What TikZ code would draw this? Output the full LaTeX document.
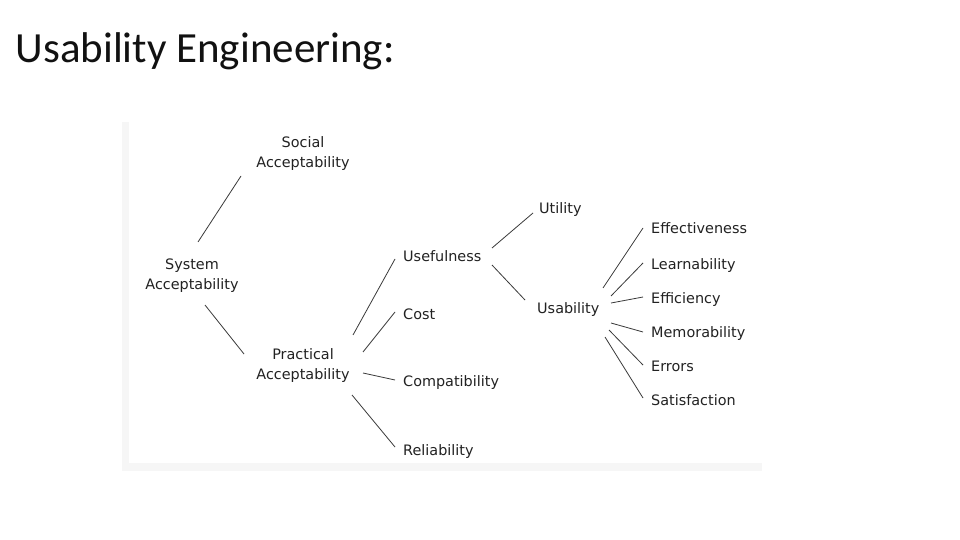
\documentclass[tikz,border=0pt]{standalone}
\usepackage{fontspec}
\setmainfont{DejaVu Sans}
\newfontfamily\titlefont{Carlito}
\definecolor{txt}{HTML}{222222}
\definecolor{ln}{HTML}{3A3A3A}
\definecolor{frame}{HTML}{F6F6F6}
\definecolor{titlec}{HTML}{111111}
\begin{document}
\begin{tikzpicture}[x=1pt,y=-1pt,
  lbl/.style={inner sep=0pt, text=txt, font=\fontsize{14.4}{20}\selectfont},
  lblw/.style={lbl, anchor=base west},
  two/.style={lbl, align=center, anchor=center},
  conn/.style={draw=ln, line width=0.8pt}]
\useasboundingbox (0,0) rectangle (960,540);
\fill[white] (0,0) rectangle (960,540);
% faint frame of the embedded picture
\fill[frame] (122,122) rectangle (129,471);
\fill[frame] (122,463) rectangle (762,471);
% title
\node[inner sep=0pt, anchor=base west, text=titlec, font=\titlefont\fontsize{43}{48}\selectfont] (title) at (15.5,63) {Usability Engineering:};
% nodes
\node[two] (soc) at (303,153.4) {Social\\Acceptability};
\node[two] (sys) at (192,275.4) {System\\Acceptability};
\node[two] (prac) at (303,365.9) {Practical\\Acceptability};
\node[lblw] (usef) at (403,261) {Usefulness};
\node[lblw] (cost) at (403,319) {Cost};
\node[lblw] (comp) at (403,386) {Compatibility};
\node[lblw] (rel) at (403,455) {Reliability};
\node[lblw] (util) at (539,213) {Utility};
\node[lblw] (usab) at (537,313) {Usability};
\node[lblw] (eff) at (651,233) {Effectiveness};
\node[lblw] (learn) at (651,269) {Learnability};
\node[lblw] (effi) at (651,303) {Efficiency};
\node[lblw] (mem) at (651,337.5) {Memorability};
\node[lblw] (err) at (651,371.5) {Errors};
\node[lblw] (sat) at (651,405.5) {Satisfaction};
% connector ends
\coordinate (sysA) at (198,242); \coordinate (socA) at (241,176);
\coordinate (sysB) at (205,305); \coordinate (pracA) at (244,354);
\coordinate (pracB) at (353,335); \coordinate (usefA) at (395,259);
\coordinate (pracC) at (363,352); \coordinate (costA) at (395,312);
\coordinate (pracD) at (363,373); \coordinate (compA) at (395,380);
\coordinate (pracE) at (352,395); \coordinate (relA) at (395,447);
\coordinate (usefB) at (492,248); \coordinate (utilA) at (533,213);
\coordinate (usefC) at (492,265); \coordinate (usabA) at (525,300);
\coordinate (usab1) at (603,288); \coordinate (effA) at (643,228);
\coordinate (usab2) at (611,296); \coordinate (learnA) at (643,263);
\coordinate (usab3) at (611,303); \coordinate (effiA) at (643,297);
\coordinate (usab4) at (611,323); \coordinate (memA) at (643,332);
\coordinate (usab5) at (609,330); \coordinate (errA) at (643,365);
\coordinate (usab6) at (605,337); \coordinate (satA) at (643,398);
% connectors
\draw[conn] (sysA) -- (socA);
\draw[conn] (sysB) -- (pracA);
\draw[conn] (pracB) -- (usefA);
\draw[conn] (pracC) -- (costA);
\draw[conn] (pracD) -- (compA);
\draw[conn] (pracE) -- (relA);
\draw[conn] (usefB) -- (utilA);
\draw[conn] (usefC) -- (usabA);
\draw[conn] (usab1) -- (effA);
\draw[conn] (usab2) -- (learnA);
\draw[conn] (usab3) -- (effiA);
\draw[conn] (usab4) -- (memA);
\draw[conn] (usab5) -- (errA);
\draw[conn] (usab6) -- (satA);
\end{tikzpicture}
\end{document}
